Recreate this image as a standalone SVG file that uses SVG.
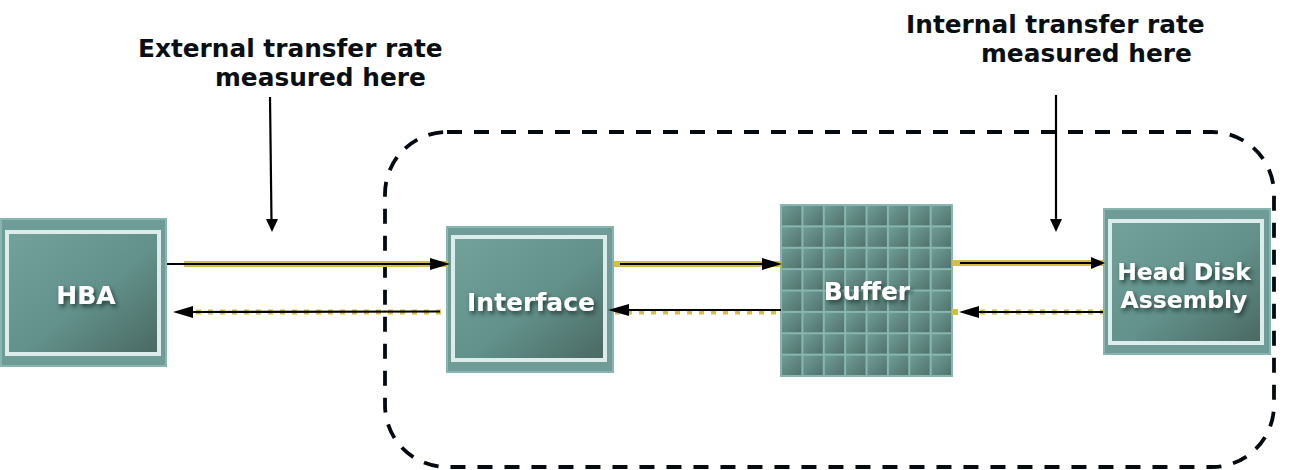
<svg xmlns="http://www.w3.org/2000/svg" width="1291" height="470" viewBox="0 0 1291 470">
<defs>
<linearGradient id="gFill" x1="0" y1="0" x2="1" y2="1">
<stop offset="0" stop-color="#73a19b"/>
<stop offset="0.55" stop-color="#62908a"/>
<stop offset="1" stop-color="#4a6862"/>
</linearGradient>
<linearGradient id="gCell" x1="0" y1="0" x2="1" y2="1">
<stop offset="0" stop-color="#6f9d97"/>
<stop offset="1" stop-color="#52726c"/>
</linearGradient>
<pattern id="pCell" patternUnits="userSpaceOnUse" x="781" y="205" width="21.375" height="21.375">
<rect x="0" y="0" width="21.375" height="21.375" fill="#88b7b1"/>
<rect x="1" y="1" width="19.4" height="19.4" fill="url(#gCell)"/>
</pattern>
<filter id="shadow" x="-20%" y="-40%" width="140%" height="180%">
<feDropShadow dx="2" dy="3" stdDeviation="2" flood-color="#1c2e2b" flood-opacity="0.8"/>
</filter>
</defs>
<style>
.frame{fill:#6f9c96;stroke:#87b5af;stroke-width:2}
.inner{fill:url(#gFill);stroke:#dcecea;stroke-width:4}
.nt{font-family:"DejaVu Sans",Verdana,sans-serif;font-weight:bold;font-size:25px;fill:#ffffff;text-anchor:middle;filter:url(#shadow)}
.nt2{font-size:23.5px}
.lt{font-family:"DejaVu Sans",Verdana,sans-serif;font-weight:bold;font-size:24.8px;fill:#0a0f14}
.y{stroke:#d4bf45;stroke-width:6;fill:none}
.yd{stroke:#d4bf45;stroke-width:5;fill:none;stroke-dasharray:5 7}
.k{stroke:#000;stroke-width:2.2;fill:none}
.h{fill:#000}
</style>

<rect id="boundary" x="385" y="132" width="889" height="335" rx="62" ry="62" fill="none" stroke="#050a10" stroke-width="3.8" stroke-dasharray="15 12"/>

<g id="label-external">
<text class="lt" x="138" y="57">External transfer rate</text>
<text class="lt" x="215" y="86">measured here</text>
</g>
<g id="label-internal">
<text class="lt" x="906" y="33">Internal transfer rate</text>
<text class="lt" x="981" y="62">measured here</text>
</g>

<g id="node-hba">
<rect class="frame" x="1" y="219" width="165" height="147"/>
<rect class="inner" x="7" y="232" width="152" height="122"/>
<text class="nt" x="86" y="304">HBA</text>
</g>

<g id="node-interface">
<rect class="frame" x="447" y="227" width="166" height="145"/>
<rect class="inner" x="453" y="237" width="152" height="123"/>
<text class="nt" x="531" y="311">Interface</text>
</g>

<g id="node-buffer">
<rect x="781" y="205" width="171" height="171" fill="url(#pCell)" stroke="#88b7b1" stroke-width="2"/>
<text class="nt" x="867" y="300">Buffer</text>
</g>

<g id="node-hda">
<rect class="frame" x="1104" y="209" width="166" height="145"/>
<rect class="inner" x="1110" y="221" width="152" height="122"/>
<text class="nt nt2" x="1184" y="280">Head Disk</text>
<text class="nt nt2" x="1184" y="308">Assembly</text>
</g>

<g id="connectors">
<!-- vertical measurement arrows -->
<line class="k" x1="270" y1="97" x2="271.5" y2="222" stroke-width="3"/>
<polygon class="h" points="266,219 278,219 272,232"/>
<line class="k" x1="1056" y1="95" x2="1056" y2="222" stroke-width="3"/>
<polygon class="h" points="1050,219 1062,219 1056,232"/>

<!-- HBA <-> Interface -->
<line class="y" x1="184" y1="264" x2="448" y2="264"/>
<line class="k" x1="167" y1="264" x2="434" y2="264"/>
<polygon class="h" points="430,258 450,264 430,270"/>
<line class="yd" x1="196" y1="312" x2="441" y2="312"/>
<line class="k" x1="440" y1="311.5" x2="190" y2="312"/>
<polygon class="h" points="193,306 173,312 193,318"/>

<!-- Interface <-> Buffer -->
<line class="y" x1="614" y1="264" x2="781" y2="264"/>
<line class="k" x1="620" y1="264" x2="766" y2="264"/>
<polygon class="h" points="762,258 782,264 762,270"/>
<line class="yd" x1="615" y1="312" x2="781" y2="312"/>
<line class="k" x1="781" y1="310" x2="625" y2="310"/>
<polygon class="h" points="629,304 608,310 629,316"/>

<!-- Buffer <-> Head Disk Assembly -->
<line class="y" x1="952" y1="263" x2="1103" y2="263"/>
<line class="k" x1="960" y1="263" x2="1094" y2="263"/>
<polygon class="h" points="1091,257 1105,263 1091,269"/>
<line class="y" x1="952" y1="312" x2="958" y2="312"/>
<line class="yd" x1="968" y1="312" x2="1103" y2="312"/>
<line class="k" x1="1103" y1="312" x2="976" y2="312"/>
<polygon class="h" points="979,306 959,312 979,318"/>
</g>
</svg>
